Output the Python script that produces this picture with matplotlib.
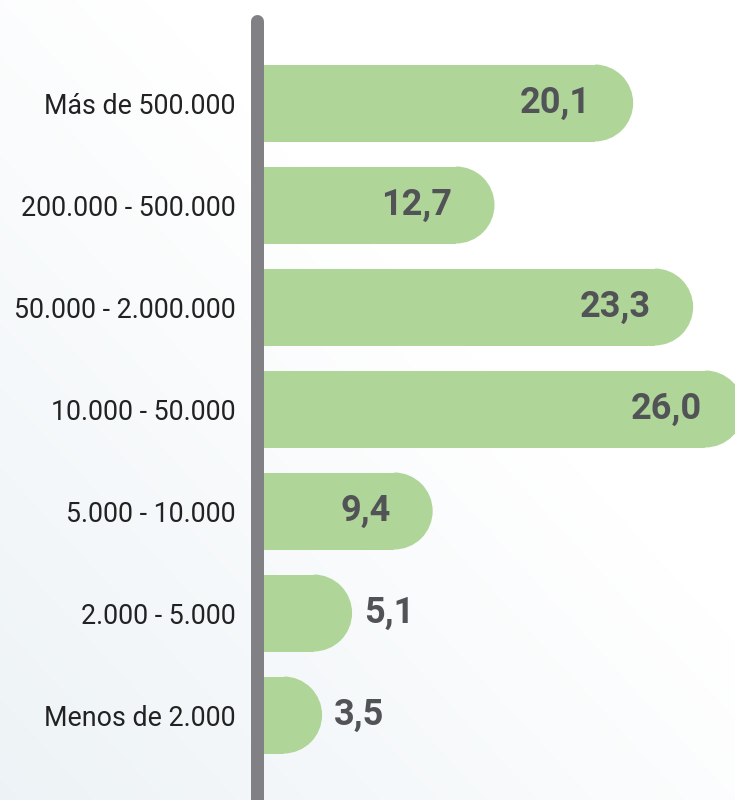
import numpy as np
import matplotlib.pyplot as plt
from matplotlib.patches import Rectangle, Ellipse

categorias = ["Más de 500.000", "200.000 - 500.000", "50.000 - 2.000.000",
              "10.000 - 50.000", "5.000 - 10.000", "2.000 - 5.000", "Menos de 2.000"]
valores = [20.1, 12.7, 23.3, 26.0, 9.4, 5.1, 3.5]
etiquetas = ["20,1", "12,7", "23,3", "26,0", "9,4", "5,1", "3,5"]

W, H, DPI = 735, 800, 100
fig = plt.figure(figsize=(W / DPI, H / DPI), dpi=DPI)

# fondo con degradado (abajo-izquierda gris azulado -> arriba-derecha blanco)
bg = fig.add_axes([0, 0, 1, 1], zorder=-1)
yy, xx = np.mgrid[0:1:200j, 0:1:200j]
t = np.clip((xx + yy) / 1.2, 0, 1)  # 0 abajo-izq, 1 arriba-der
c0 = np.array([0.93, 0.952, 0.965])
c1 = np.array([1.0, 1.0, 1.0])
img = c0[None, None, :] * (1 - t[..., None]) + c1[None, None, :] * t[..., None]
bg.imshow(img, origin="lower", extent=[0, 1, 0, 1], aspect="auto")
bg.axis("off")

# ejes: x=0 en el centro de la línea gris
x0_px = 256.5
px_por_unidad = 18.74
ax = fig.add_axes([x0_px / W, 0, 1 - x0_px / W, 1])
ax.set_xlim(0, (W - x0_px) / px_por_unidad)
paso_px = 102.0
c_px = 103.0
ax.set_ylim((H - c_px) / paso_px, -c_px / paso_px)
ax.patch.set_alpha(0)
for s in ax.spines.values():
    s.set_visible(False)

alto = 77 / paso_px
rx = (alto * paso_px / 2) / px_por_unidad
verde = "#afd698"
gris_txt = "#525357"

for i, (v, lab) in enumerate(zip(valores, etiquetas)):
    ax.add_patch(Rectangle((0, i - alto / 2), v - rx, alto, color=verde, lw=0, clip_on=False))
    cap = Ellipse((v - rx, i), 2 * rx, alto, color=verde, lw=0)
    ax.add_patch(cap)
    cap.set_clip_path(Rectangle((v - rx, i - alto), 2 * rx, 2 * alto, transform=ax.transData))
    if v > 8:
        ax.annotate(lab, (v, i), xytext=(-42 * 0.72, 0), textcoords="offset points",
                    ha="right", va="center", fontsize=26, fontweight="bold",
                    family="Roboto", color=gris_txt, annotation_clip=False)
    else:
        ax.annotate(lab, (v, i), xytext=(12 * 0.72, 0), textcoords="offset points",
                    ha="left", va="center", fontsize=26, fontweight="bold",
                    family="Roboto", color=gris_txt, annotation_clip=False)

# línea vertical gris con extremo superior redondeado
top = (14 + 6.5 - c_px) / paso_px
ax.plot([0, 0], [top, 8], color="#818185", lw=13 * 0.72, solid_capstyle="round",
        clip_on=False, zorder=5)

ax.set_xticks([])
ax.set_yticks(range(len(categorias)))
ax.set_yticklabels(categorias, family="Roboto", fontsize=19.3, color="#222222")
ax.tick_params(axis="y", length=0, pad=21 * 0.72)

fig.savefig("out.png", dpi=DPI)
